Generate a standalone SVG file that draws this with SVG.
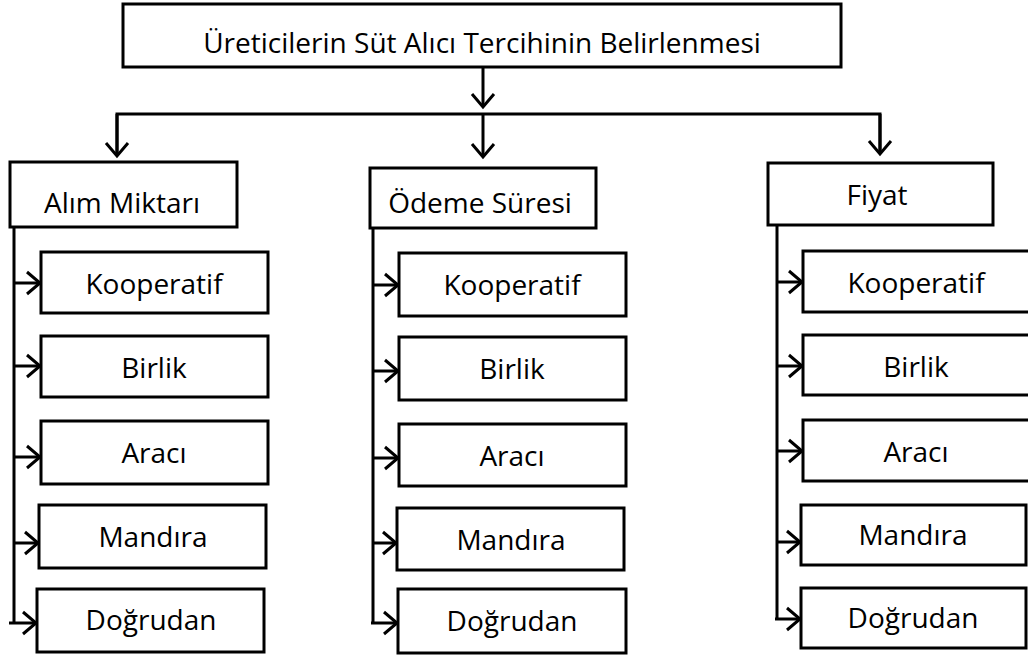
<svg xmlns="http://www.w3.org/2000/svg" width="1028" height="656" viewBox="0 0 1028 656">
<defs>
<style>
.box{fill:#fff;stroke:#000;stroke-width:3}
.t{font-family:"Open Sans","Noto Sans","Liberation Sans",sans-serif;font-size:28px;fill:#000;text-anchor:middle}
.c{fill:none;stroke:#000;stroke-width:3}
</style>
<marker id="arr" markerUnits="userSpaceOnUse" markerWidth="18" markerHeight="26" viewBox="0 0 18 26" refX="15" refY="13" orient="auto">
<path d="M2,2 L15,13 L2,24" fill="none" stroke="#000" stroke-width="3"/>
</marker>
</defs>
<rect width="1028" height="656" fill="#fff"/>
<g id="connectors">
<path class="c" d="M483,67 V107" marker-end="url(#arr)"/>
<path class="c" d="M117,156 V114 H880 V154"/>
<path class="c" d="M117,114 V156" marker-end="url(#arr)"/>
<path class="c" d="M483,114 V157" marker-end="url(#arr)"/>
<path class="c" d="M880,114 V154" marker-end="url(#arr)"/>
<path class="c" d="M14,227 V623"/>
<path class="c" d="M14,283 H40" marker-end="url(#arr)"/>
<path class="c" d="M14,366 H40" marker-end="url(#arr)"/>
<path class="c" d="M14,457 H40" marker-end="url(#arr)"/>
<path class="c" d="M14,543 H38" marker-end="url(#arr)"/>
<path class="c" d="M9,623 H36" marker-end="url(#arr)"/>
<path class="c" d="M373,228 V623"/>
<path class="c" d="M373,285 H398" marker-end="url(#arr)"/>
<path class="c" d="M373,371 H398" marker-end="url(#arr)"/>
<path class="c" d="M373,458 H398" marker-end="url(#arr)"/>
<path class="c" d="M373,543 H396" marker-end="url(#arr)"/>
<path class="c" d="M371,623 H397" marker-end="url(#arr)"/>
<path class="c" d="M777,225 V619"/>
<path class="c" d="M777,282 H802" marker-end="url(#arr)"/>
<path class="c" d="M777,366 H802" marker-end="url(#arr)"/>
<path class="c" d="M777,451 H802" marker-end="url(#arr)"/>
<path class="c" d="M777,542 H800" marker-end="url(#arr)"/>
<path class="c" d="M775,619 H800" marker-end="url(#arr)"/>
</g>
<g id="root"><rect class="box" x="123" y="4" width="718" height="63"/><text class="t" x="482" y="53">Üreticilerin Süt Alıcı Tercihinin Belirlenmesi</text></g>
<g id="alim"><rect class="box" x="10" y="162" width="227" height="65"/><text class="t" x="122" y="213">Alım Miktarı</text></g>
<g id="odeme"><rect class="box" x="370" y="168" width="226" height="60"/><text class="t" x="480" y="213">Ödeme Süresi</text></g>
<g id="fiyat"><rect class="box" x="768" y="163" width="225" height="62"/><text class="t" x="877" y="205">Fiyat</text></g>

<g id="a-koop"><rect class="box" x="41" y="252" width="227" height="61"/><text class="t" x="154" y="294">Kooperatif</text></g>
<g id="a-birlik"><rect class="box" x="41" y="336" width="227" height="61"/><text class="t" x="154" y="378">Birlik</text></g>
<g id="a-araci"><rect class="box" x="41" y="421" width="227" height="63"/><text class="t" x="154" y="463">Aracı</text></g>
<g id="a-mandira"><rect class="box" x="39" y="505" width="227" height="63"/><text class="t" x="153" y="547">Mandıra</text></g>
<g id="a-dogrudan"><rect class="box" x="37" y="589" width="227" height="63"/><text class="t" x="151" y="630">Doğrudan</text></g>

<g id="o-koop"><rect class="box" x="399" y="253" width="227" height="63"/><text class="t" x="512" y="295">Kooperatif</text></g>
<g id="o-birlik"><rect class="box" x="399" y="337" width="227" height="63"/><text class="t" x="512" y="379">Birlik</text></g>
<g id="o-araci"><rect class="box" x="399" y="424" width="227" height="62"/><text class="t" x="512" y="466">Aracı</text></g>
<g id="o-mandira"><rect class="box" x="397" y="508" width="227" height="62"/><text class="t" x="511" y="550">Mandıra</text></g>
<g id="o-dogrudan"><rect class="box" x="398" y="589" width="228" height="64"/><text class="t" x="512" y="631">Doğrudan</text></g>

<g id="f-koop"><rect class="box" x="803" y="251" width="230" height="61"/><text class="t" x="916" y="293">Kooperatif</text></g>
<g id="f-birlik"><rect class="box" x="803" y="335" width="230" height="60"/><text class="t" x="916" y="377">Birlik</text></g>
<g id="f-araci"><rect class="box" x="803" y="420" width="230" height="61"/><text class="t" x="916" y="462">Aracı</text></g>
<g id="f-mandira"><rect class="box" x="801" y="505" width="225" height="60"/><text class="t" x="913" y="545">Mandıra</text></g>
<g id="f-dogrudan"><rect class="box" x="801" y="588" width="225" height="60"/><text class="t" x="913" y="628">Doğrudan</text></g>
</svg>
